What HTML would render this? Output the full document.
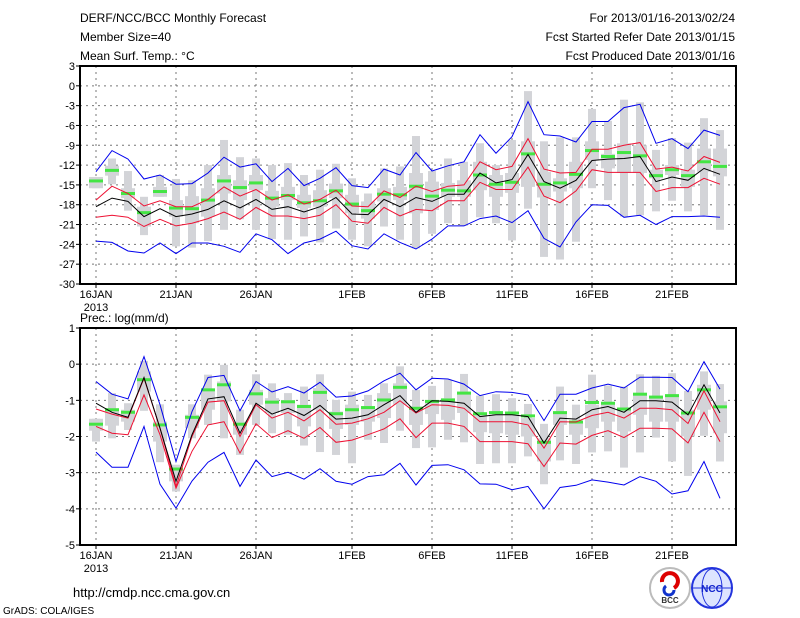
<!DOCTYPE html>
<html><head><meta charset="utf-8"><style>
html,body{margin:0;padding:0;background:#fff;}
svg{display:block;font-family:"Liberation Sans",sans-serif;}
</style></head><body>
<svg id="chart" width="800" height="618" viewBox="0 0 800 618" xmlns="http://www.w3.org/2000/svg">
<rect width="800" height="618" fill="#fff"/>
<g font-size="12" fill="#000">
<text x="80" y="22">DERF/NCC/BCC Monthly Forecast</text>
<text x="80" y="41">Member Size=40</text>
<text x="80" y="60">Mean Surf. Temp.: °C</text>
<text x="735" y="22" text-anchor="end">For 2013/01/16-2013/02/24</text>
<text x="735" y="41" text-anchor="end">Fcst Started Refer Date 2013/01/15</text>
<text x="735" y="60" text-anchor="end">Fcst Produced Date 2013/01/16</text>
<text x="80" y="322">Prec.: log(mm/d)</text>
<text x="73" y="597" font-size="13">http://cmdp.ncc.cma.gov.cn</text>
<text x="3" y="614" font-size="10">GrADS: COLA/IGES</text>
</g>
<g>
<circle cx="670" cy="588" r="20" fill="#fff" stroke="#bbb" stroke-width="2"/>
<path d="M662 582 a8 8 0 1 1 12 6" fill="none" stroke="#d00" stroke-width="4"/>
<path d="M666 586 a5 5 0 1 0 8 4" fill="none" stroke="#13c" stroke-width="3"/>
<text x="670" y="603" font-size="8" text-anchor="middle" font-weight="bold" fill="#333">BCC</text>
</g>
<g>
<circle cx="712" cy="588" r="20" fill="#dde4ff" stroke="#23d" stroke-width="2"/>
<ellipse cx="712" cy="588" rx="10" ry="19" fill="none" stroke="#23d"/>
<line x1="693" y1="588" x2="731" y2="588" stroke="#23d"/>
<text x="712" y="592" font-size="10" text-anchor="middle" font-weight="bold" fill="#12c">NCC</text>
</g>
<g id="plots"></g>
</svg>
<script>
// ---- Temperature panel data ----
const days = ["16JAN","","","","","21JAN","","","","","26JAN","","","","","","1FEB","","","","","6FEB","","","","","11FEB","","","","","16FEB","","","","","21FEB","","",""];
const tTicks = [3,0,-3,-6,-9,-12,-15,-18,-21,-24,-27,-30];
const tMean = [-18.3,-17.0,-17.5,-19.8,-18.6,-19.8,-19.4,-18.7,-17.4,-18.5,-17.2,-18.7,-18.3,-19.1,-18.3,-16.9,-19.4,-19.5,-17.2,-18.3,-16.9,-17.5,-16.4,-16.4,-13.2,-14.7,-14.2,-10.4,-14.5,-15.5,-14.3,-11.3,-11.1,-11.0,-10.7,-14.5,-13.8,-14.3,-12.5,-13.4];
const tRedHi = [-17.3,-15.2,-16.3,-18.2,-17.4,-18.3,-18.3,-17.2,-15.3,-16.7,-15.7,-17.3,-16.5,-17.9,-17.2,-15.8,-18.2,-18.3,-15.9,-16.9,-15.2,-16.0,-15.2,-15.0,-11.5,-12.7,-12.2,-8.0,-12.6,-13.2,-13.1,-9.6,-9.6,-9.0,-8.6,-12.6,-12.3,-12.9,-10.7,-11.6];
const tRedLo = [-19.9,-19.6,-19.9,-21.3,-20.2,-21.2,-20.8,-20.1,-19.1,-20.2,-18.4,-19.7,-19.7,-20.1,-19.6,-18.0,-20.5,-20.8,-18.4,-19.7,-18.7,-18.9,-17.4,-17.4,-14.6,-15.7,-15.7,-12.3,-16.7,-17.7,-15.9,-12.7,-13.1,-13.1,-13.1,-16.0,-15.4,-15.4,-14.0,-14.9];
const tBlueHi = [-13.0,-9.8,-11.1,-14.1,-13.5,-14.9,-14.8,-13.2,-10.8,-12.3,-11.8,-14.5,-12.5,-15.1,-14.0,-12.4,-15.1,-15.4,-12.6,-13.5,-10.1,-12.9,-12.1,-11.5,-7.4,-10.2,-7.7,-2.4,-7.4,-7.6,-8.5,-5.4,-5.4,-3.3,-2.8,-8.7,-8.0,-9.5,-6.7,-7.5];
const tBlueLo = [-23.5,-23.7,-25.0,-25.3,-23.8,-25.4,-23.8,-23.8,-24.3,-25.2,-22.4,-23.3,-25.4,-23.8,-23.2,-22.0,-24.2,-24.7,-22.4,-23.7,-24.7,-23.2,-21.2,-21.2,-20.1,-19.7,-20.7,-18.9,-23.1,-24.4,-20.6,-18.0,-18.1,-19.9,-19.6,-21.0,-19.8,-19.8,-19.7,-19.9];
const tObs = [-14.4,-12.8,-16.3,-19.2,-16.0,-18.5,-18.6,-17.3,-14.4,-15.4,-14.7,-17.0,-16.6,-17.7,-17.4,-15.9,-17.9,-18.9,-16.4,-16.5,-15.2,-16.7,-15.8,-15.9,-13.5,-14.9,-14.6,-10.3,-14.9,-14.7,-13.4,-9.8,-10.7,-10.1,-10.6,-13.6,-12.7,-13.6,-11.5,-12.2];
const tMax = [-13.8,-11.0,-12.9,-16.8,-13.5,-14.1,-14.3,-12.0,-8.2,-10.8,-11.0,-12.0,-11.7,-13.5,-12.7,-11.8,-14.0,-16.3,-12.5,-12.2,-7.6,-12.9,-11.0,-11.5,-8.7,-12.0,-8.2,-0.8,-8.4,-7.8,-7.8,-3.5,-5.3,-2.1,-2.5,-9.7,-7.9,-8.6,-4.9,-6.7];
const tMin = [-15.5,-14.9,-18.9,-22.6,-16.8,-24.3,-24.5,-23.5,-21.8,-20.2,-21.8,-23.2,-23.3,-22.8,-23.7,-21.6,-23.3,-24.3,-21.3,-23.3,-24.6,-22.4,-20.8,-21.2,-19.9,-20.8,-23.4,-18.6,-25.9,-26.3,-23.6,-15.5,-17.3,-19.8,-19.6,-19.0,-17.4,-19.0,-19.6,-21.8];
const tQ3 = [-13.8,-12.1,-15.5,-18.3,-15.3,-17.3,-16.7,-15.5,-13.5,-14.3,-13.5,-15.9,-15.3,-16.5,-15.8,-14.8,-16.5,-17.5,-15.5,-15.3,-13.2,-14.5,-14.7,-14.3,-11.5,-13.5,-13.2,-8.4,-13.0,-14.0,-11.5,-8.4,-10.3,-8.7,-9.0,-12.7,-12.0,-12.7,-9.5,-9.5];
const tQ1 = [-15.5,-13.6,-17.0,-21.3,-16.8,-19.8,-20.8,-19.8,-16.3,-17.3,-15.8,-18.3,-17.3,-18.5,-18.3,-17.0,-19.3,-20.1,-17.5,-17.3,-19.3,-18.8,-16.8,-16.8,-15.8,-16.8,-16.2,-15.3,-16.9,-16.0,-15.5,-11.2,-12.5,-13.2,-13.2,-14.0,-13.5,-15.3,-13.0,-13.7];
// ---- Precipitation panel data ----
const pTicks = [1,0,-1,-2,-3,-4,-5];
const pMean = [-1.08,-1.33,-1.47,-0.37,-1.77,-3.24,-1.95,-0.96,-0.90,-1.91,-1.08,-1.38,-1.22,-1.42,-1.14,-1.52,-1.49,-1.40,-1.12,-0.87,-1.33,-1.01,-1.03,-1.08,-1.45,-1.40,-1.40,-1.45,-2.18,-1.49,-1.52,-1.26,-1.17,-1.33,-1.01,-1.01,-1.05,-1.40,-0.57,-1.35];
const pRedHi = [-1.24,-1.38,-1.49,-0.39,-1.77,-3.38,-2.0,-1.05,-1.01,-2.0,-1.12,-1.49,-1.33,-1.57,-1.26,-1.66,-1.63,-1.51,-1.33,-1.01,-1.35,-1.12,-1.14,-1.22,-1.59,-1.59,-1.59,-1.68,-2.32,-1.59,-1.60,-1.42,-1.33,-1.49,-1.22,-1.22,-1.26,-1.64,-0.74,-1.59];
const pRedLo = [-1.72,-1.91,-1.95,-0.85,-1.95,-3.43,-2.41,-1.68,-1.59,-2.46,-1.65,-2.03,-1.84,-2.05,-1.75,-2.16,-2.10,-1.95,-1.79,-1.51,-2.03,-1.63,-1.63,-1.72,-2.14,-2.14,-2.14,-2.20,-2.83,-2.18,-2.21,-1.97,-1.84,-2.03,-1.77,-1.77,-1.79,-2.18,-1.33,-2.14];
const pBlueHi = [-0.48,-0.83,-0.96,0.21,-1.12,-2.69,-1.31,-0.37,-0.31,-1.29,-0.48,-0.77,-0.62,-0.80,-0.50,-0.91,-0.88,-0.74,-0.46,-0.25,-0.71,-0.39,-0.41,-0.55,-0.87,-0.76,-0.78,-0.85,-1.56,-0.83,-0.83,-0.66,-0.55,-0.66,-0.36,-0.36,-0.37,-0.76,0.07,-0.69];
const pBlueLo = [-2.43,-2.85,-2.85,-1.72,-3.32,-3.98,-3.23,-2.71,-2.44,-3.38,-2.65,-3.11,-2.99,-3.18,-2.89,-3.24,-3.32,-3.11,-3.06,-2.74,-3.34,-2.80,-2.78,-2.92,-3.31,-3.32,-3.47,-3.38,-4.0,-3.41,-3.35,-3.20,-3.26,-3.34,-3.11,-3.24,-3.59,-3.50,-2.69,-3.71];
const pObs = [-1.66,-1.26,-1.33,-0.43,-1.68,-2.9,-1.47,-0.71,-0.57,-1.66,-0.82,-1.05,-1.04,-1.17,-0.78,-1.37,-1.26,-1.20,-0.99,-0.64,-1.22,-1.03,-0.99,-0.80,-1.37,-1.34,-1.35,-1.43,-2.16,-1.34,-1.60,-1.06,-1.08,-1.24,-0.83,-0.91,-0.87,-1.35,-0.71,-1.18];
const pMax = [-1.51,-0.80,-1.08,0.09,-1.11,-2.78,-1.11,-0.29,-0.02,-1.26,-0.28,-0.53,-0.80,-0.62,-0.28,-0.99,-0.76,-0.85,-0.53,-0.06,-0.71,-0.60,-0.43,-0.27,-0.87,-0.83,-0.94,-1.10,-1.65,-0.62,-1.12,-0.29,-0.59,-0.62,-0.28,-0.32,-0.25,-0.74,-0.20,-0.55];
const pMin = [-2.14,-2.05,-1.82,-1.29,-2.71,-3.52,-2.05,-1.68,-2.05,-2.51,-1.68,-1.91,-1.95,-2.25,-2.43,-2.51,-2.74,-2.09,-2.18,-1.84,-2.32,-2.30,-2.09,-2.16,-2.76,-2.74,-2.74,-2.55,-3.32,-2.66,-2.76,-2.44,-2.41,-2.86,-2.44,-2.03,-2.69,-3.09,-1.98,-2.69];
const pQ3 = [-1.51,-1.22,-1.26,-0.20,-1.59,-2.88,-1.40,-0.71,-0.48,-1.59,-0.71,-0.94,-0.99,-1.12,-0.66,-1.31,-1.12,-1.17,-0.80,-0.53,-1.17,-0.99,-0.94,-0.76,-1.40,-1.40,-1.40,-1.49,-2.05,-1.33,-1.59,-1.12,-1.08,-1.22,-0.80,-0.89,-0.85,-1.26,-0.57,-1.03];
const pQ1 = [-1.84,-1.70,-1.59,-0.76,-2.14,-3.24,-1.77,-1.26,-1.03,-1.95,-1.12,-1.35,-1.35,-1.72,-1.26,-1.79,-1.68,-1.59,-1.49,-1.12,-1.68,-1.38,-1.54,-1.35,-1.88,-1.91,-1.95,-2.00,-2.69,-1.68,-1.95,-1.77,-1.59,-1.86,-1.40,-1.59,-1.59,-2.00,-1.26,-1.91];

const NS="http://www.w3.org/2000/svg";
const root=document.getElementById('plots');
function mk(tag,attrs,parent){const e=document.createElementNS(NS,tag);for(const k in attrs)e.setAttribute(k,attrs[k]);(parent||root).appendChild(e);return e;}
const X0=80,X1=736;
function xs(i){return 96+16*i;}

function panel(name,top,bot,ticks,d){
  const vmax=ticks[0],vmin=ticks[ticks.length-1];
  const ys=v=>top+(vmax-v)*(bot-top)/(vmax-vmin);
  const g=mk('g',{});
  
  
  ticks.forEach(t=>{
    if(t!==vmax&&t!==vmin){const l=mk('line',{x1:X0,x2:X1,y1:ys(t),y2:ys(t),stroke:'#777','stroke-dasharray':'2,4','stroke-width':1},g);
    
    }
    const tk=mk('line',{x1:X0-4,x2:X0,y1:ys(t),y2:ys(t),stroke:'#000'},g);
    
    
    const tx=mk('text',{x:X0-5,y:ys(t)+4,'text-anchor':'end','font-size':11},g);
    tx.textContent=t;
    
    
  });
  days.forEach((lab,i)=>{
    if(!lab)return;
    const x=xs(i);
    const l=mk('line',{x1:x,x2:x,y1:top,y2:bot,stroke:'#777','stroke-dasharray':'2,4'},g);
    
    
    const tk=mk('line',{x1:x,x2:x,y1:bot,y2:bot+4,stroke:'#000'},g);
    
    
    const tx=mk('text',{x:x,y:bot+14,'text-anchor':'middle','font-size':11},g);
    tx.textContent=lab;
    
    
    if(i===0){const y2=mk('text',{x:x,y:bot+27,'text-anchor':'middle','font-size':11},g);
      y2.textContent='2013';
      
      }
  });
  d.max.forEach((mx,i)=>{
    const x=xs(i);
    const w=mk('rect',{x:x-4,y:ys(mx),width:8,height:ys(d.min[i])-ys(mx),fill:'#d3d4d8'},g);
    
    
    const b=mk('rect',{x:x-7,y:ys(d.q3[i]),width:14,height:ys(d.q1[i])-ys(d.q3[i]),fill:'#d3d4d8'},g);
    
    
  });
  d.obs.forEach((v,i)=>{
    const r=mk('rect',{x:xs(i)-7,y:ys(v)-1.5,width:14,height:3,fill:'#44e544'},g);
    
    
  });
  const lines=[['blue-upper',d.bhi,'#0000ee'],['blue-lower',d.blo,'#0000ee'],['red-upper',d.rhi,'#ee1133'],['red-lower',d.rlo,'#ee1133'],['ensemble-mean',d.mean,'#000']];
  lines.forEach(([n,arr,c])=>{
    const p=mk('polyline',{points:arr.map((v,i)=>xs(i)+','+ys(v).toFixed(1)).join(' '),fill:'none',stroke:c,'stroke-width':1},g);
    
    
  });
  const f=mk('rect',{x:X0,y:top,width:X1-X0,height:bot-top,fill:'none',stroke:'#000','stroke-width':2},g);
  
  
}
panel('temperature-panel',66,284,tTicks,{mean:tMean,rhi:tRedHi,rlo:tRedLo,bhi:tBlueHi,blo:tBlueLo,obs:tObs,max:tMax,min:tMin,q3:tQ3,q1:tQ1});
panel('precipitation-panel',328,545,pTicks,{mean:pMean,rhi:pRedHi,rlo:pRedLo,bhi:pBlueHi,blo:pBlueLo,obs:pObs,max:pMax,min:pMin,q3:pQ3,q1:pQ1});
</script>
</body></html>
